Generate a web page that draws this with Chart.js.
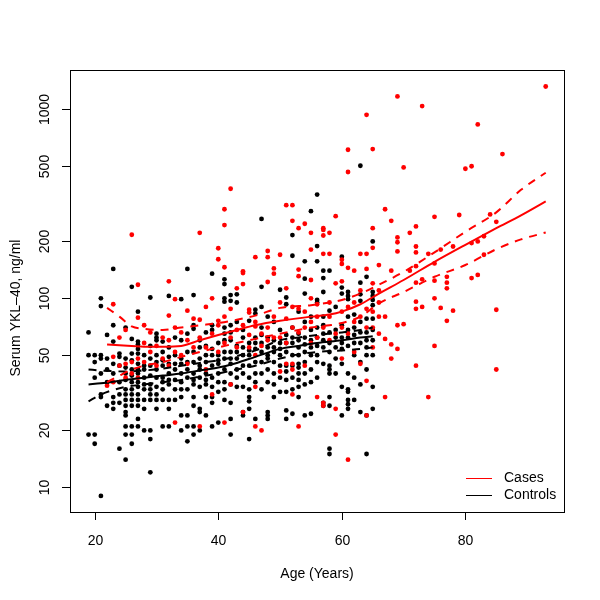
<!DOCTYPE html>
<html>
<head>
<meta charset="utf-8">
<script src="https://cdn.jsdelivr.net/npm/chart.js@4.4.1/dist/chart.umd.min.js"></script>
<style>
  html, body { margin: 0; padding: 0; background: #fff; }
  #wrap { width: 600px; height: 600px; }
</style>
</head>
<body>
<div id="wrap"><canvas id="ykl" width="600" height="600"></canvas></div>
<script>
// tick labels
const xTicks = [20, 40, 60, 80];
const yTicks = [10, 20, 50, 100, 200, 500, 1000];

// controls: one list of YKL-40 values per age
const controlAges = [19, 20, 21, 22, 23, 24, 25, 26, 27, 28, 29, 30, 31, 32, 33, 34, 35, 36, 37, 38, 39, 40, 41, 42,
  43, 44, 45, 46, 47, 48, 49, 50, 51, 52, 53, 54, 55, 56, 57, 58, 59, 60, 61, 62, 63, 64, 65];
const controlVals = [
  [66, 50, 19],
  [50, 46, 38, 19, 17],
  [100, 91, 50, 48, 40, 31, 30, 9],
  [64, 48, 42, 36, 27],
  [143, 72, 59, 45, 40, 30, 28, 26],
  [51, 49, 44, 36, 31, 28, 16],
  [70, 48, 43, 40, 37, 33, 31, 29, 27, 25, 24, 21, 19, 14],
  [115, 61, 51, 47, 42, 39, 36, 33, 31, 29, 27, 21, 19, 17],
  [85, 59, 57, 54, 51, 45, 42, 40, 36, 34, 31, 29, 27, 23, 21],
  [50, 44, 42, 38, 35, 33, 29, 26, 20],
  [101, 56, 48, 44, 39, 35, 33, 31, 29, 20, 18, 12],
  [65, 62, 60, 50, 46, 42, 38, 34, 31, 29, 26],
  [59, 52, 47, 44, 38, 36, 33, 29, 21],
  [103, 55, 49, 45, 40, 37, 35, 29, 26, 21],
  [62, 50, 45, 42, 37, 33, 29],
  [99, 60, 48, 45, 40, 36, 33, 30, 24, 20],
  [143, 65, 52, 46, 42, 38, 33, 24, 21, 17.5],
  [104, 72, 69, 52, 46, 40, 37, 35, 30, 27, 21, 19],
  [60, 55, 48, 44, 42, 38, 34, 26, 25, 20],
  [66, 56, 50, 46, 40, 37, 35, 30, 24],
  [135, 72, 68, 54, 50, 44, 38, 34, 30, 28, 21],
  [58, 50, 47, 45, 40, 36, 32, 22],
  [126, 119, 100, 96, 70, 65, 60, 52, 48, 42, 36, 33, 29],
  [104, 97, 72, 66, 60, 52, 48, 45, 40, 35, 28, 23, 19],
  [105, 95, 75, 56, 52, 48, 42, 38, 34],
  [68, 62, 55, 50, 44, 40, 34, 25, 24],
  [76, 58, 53, 50, 44, 38, 33, 30, 28.5, 26, 18],
  [87, 83, 62, 58, 54, 46, 40, 36, 23],
  [263, 115, 90, 70, 64, 58, 52, 46, 40, 33],
  [80, 62, 55, 50, 48, 42, 36, 25, 24, 23],
  [75, 60, 55, 52, 46, 40, 35, 30],
  [111, 68, 58, 54, 50, 44, 38, 32],
  [101, 93, 64, 58, 52, 44, 41, 37, 32, 25.5, 23],
  [216, 168, 70, 62, 58, 50, 44, 38, 33, 24.5],
  [85, 65, 60, 55, 50, 45, 43, 40, 37, 34, 30],
  [157, 127, 106, 75, 62, 57, 52, 46, 40, 35, 24],
  [289, 80, 68, 60, 55, 50, 42, 36, 24.5],
  [354, 189, 157, 98, 95, 70, 62, 56, 50, 46, 38],
  [140, 128, 108, 80, 72, 65, 60, 55, 45, 28, 27],
  [140, 86, 66, 58, 52, 44, 42, 40, 30, 27, 16, 15],
  [90, 68, 62, 55, 48, 40],
  [166, 114, 106, 72, 62, 58, 54, 45, 34, 24],
  [108, 103, 99, 80, 68, 62, 56, 40, 33, 32, 29, 27.5, 26],
  [82, 70, 64, 58, 50, 38, 29],
  [503, 121, 105, 97, 75, 66, 58, 46, 35, 25],
  [130, 78, 66, 60, 55, 50, 42, 24, 15],
  [200, 108, 103, 98, 92, 78, 68, 60, 50, 34, 26]
];

// cases: one list of YKL-40 values per age
const caseAges = [22, 23, 24, 25, 26, 27, 28, 29, 30, 31, 32, 33, 34, 35, 36, 37, 38, 39, 40, 41, 42, 43, 44, 45,
  46, 47, 48, 49, 50, 51, 52, 53, 54, 55, 56, 57, 58, 59, 60, 61, 62, 63, 64, 65, 66, 67, 68, 69, 70, 71, 72, 73,
  74, 75, 76, 77, 78, 79, 80, 81, 82, 83, 84, 85, 86, 93];
const caseVals = [
  [34.5], [93, 49, 36], [62, 44], [68, 45, 38], [217, 46, 40], [118, 79, 48, 38], [72, 58, 46], [66, 52],
  [56, 44], [62, 48], [123, 81, 60, 44], [99, 70, 52, 22], [66, 50], [86, 60, 45], [78, 55], [222, 77, 62, 21],
  [90, 55, 42], [100, 65, 31], [184, 161, 76, 72, 52], [296, 244, 146, 80, 58, 22], [380, 88, 62, 35],
  [113, 68, 55], [139, 136, 119, 72, 25], [87, 84, 64, 55], [165, 75, 71, 50, 34, 21], [65, 56, 20],
  [178, 165, 122, 70, 60], [144, 135, 80, 62], [170, 95, 62, 41], [311, 113, 78, 58, 45],
  [311, 257, 90, 70, 45, 42, 31], [235, 142, 131, 88, 66, 21], [248, 85, 70, 44], [222, 181, 125, 100, 75, 58],
  [93, 80, 62, 30], [235, 230, 215, 172, 70, 28, 27], [222, 172, 95, 80, 60], [272, 120, 65, 26, 19],
  [160, 152, 123, 85, 70, 48], [611, 466, 145, 90, 65, 14], [140, 95, 75, 52], [172, 110, 80, 45],
  [935, 172, 143, 88, 70, 36.6, 24], [616, 235, 185, 120, 85, 70, 55], [150, 110, 95, 80, 65],
  [296, 80, 61, 30], [257, 140, 57, 48], [1170, 210, 198, 177, 72, 54], [493, 73], [222, 140],
  [240, 188, 175, 148, 121, 96, 88, 44], [1040, 126, 90], [172, 30], [270, 153, 124, 100, 56], [181, 89],
  [130, 121, 113, 76], [188, 86], [276], [485], [500, 196, 128], [832, 200, 133], [213, 170], [278],
  [254, 87, 42], [580], [1321]
];

// smooth fits with bands
const caseFitAges = [22, 24, 26, 28, 31, 34, 37, 40, 43, 46, 50, 55, 58, 60, 63, 66, 70, 75, 80, 85, 89, 93];
const caseFit   = [57, 56.5, 56, 55.5, 55.5, 56, 60, 64, 68, 72, 76, 80, 82, 85, 93, 106, 125, 156, 192, 235, 275, 326];
const caseUpper = [89, 80, 71, 69, 68, 70, 72, 74, 77, 81, 89, 92, 95, 98, 106, 118, 138, 175, 225, 285, 375, 462];
const caseLower = [36, 39, 42, 44, 46, 49, 52, 55, 58, 61, 65, 70, 72, 74, 80, 94, 108, 130, 150, 182, 205, 223];

const controlFitAges = [19, 21, 25, 28, 31, 34, 37, 40, 43, 46, 50, 53, 56, 60, 63, 65];
const controlFit   = [35, 35.5, 37, 38, 39, 40, 41.5, 43, 45.5, 49, 54, 56, 58, 60, 62, 63];
const controlUpper = [42, 41.5, 41, 41.5, 42.5, 44, 45.5, 47, 49.5, 53, 60, 62, 64, 66, 68, 70];
const controlLower = [28.5, 31, 34, 35, 36, 37, 38.5, 40, 42, 44, 48, 50.5, 52, 53, 54, 55];

const toPoints = (ages, vals) => {
  const pts = [];
  ages.forEach((a, i) => vals[i].forEach(v => pts.push({ x: a, y: v })));
  return pts;
};
const toLine = (ages, vals) => ages.map((a, i) => ({ x: a, y: vals[i] }));

const FONT = '14px "Liberation Sans", Arial, Helvetica, sans-serif';

// R style box, axes, titles and legend
const rStyle = {
  id: 'rStyle',
  afterDraw(chart) {
    const { ctx, chartArea: a, scales: { x, y } } = chart;
    ctx.save();
    ctx.strokeStyle = '#000';
    ctx.lineWidth = 1;
    ctx.setLineDash([]);
    ctx.strokeRect(a.left + 0.5, a.top + 0.5, a.right - a.left, a.bottom - a.top);
    ctx.font = FONT;
    ctx.fillStyle = '#000';
    ctx.textAlign = 'center';
    ctx.textBaseline = 'middle';

    xTicks.forEach(t => {
      const px = Math.round(x.getPixelForValue(t)) + 0.5;
      ctx.beginPath();
      ctx.moveTo(px, a.bottom);
      ctx.lineTo(px, a.bottom + 8);
      ctx.stroke();
      ctx.fillText(String(t), px, a.bottom + 29);
    });
    ctx.fillText('Age (Years)', (a.left + a.right) / 2, 574);

    yTicks.forEach(t => {
      const py = Math.round(y.getPixelForValue(t)) + 0.5;
      ctx.beginPath();
      ctx.moveTo(a.left - 8, py);
      ctx.lineTo(a.left, py);
      ctx.stroke();
      ctx.save();
      ctx.translate(45, py);
      ctx.rotate(-Math.PI / 2);
      ctx.fillText(String(t), 0, 0);
      ctx.restore();
    });
    ctx.save();
    ctx.translate(16, 308);
    ctx.rotate(-Math.PI / 2);
    ctx.fillText('Serum YKL\u201340, ng/ml', 0, 0);
    ctx.restore();

    // legend
    const items = [['Cases', '#ff0000', 478], ['Controls', '#000000', 495]];
    ctx.textAlign = 'left';
    items.forEach(([label, col, ly]) => {
      ctx.strokeStyle = col;
      ctx.beginPath();
      ctx.moveTo(466, ly + 0.5);
      ctx.lineTo(492, ly + 0.5);
      ctx.stroke();
      ctx.fillText(label, 504, ly);
    });
    ctx.restore();
  }
};

const lineSet = (data, color, dashed) => ({
  type: 'line',
  data: data,
  borderColor: color,
  borderWidth: 2,
  borderDash: dashed ? [8, 7] : [],
  pointRadius: 0,
  fill: false,
  cubicInterpolationMode: 'monotone',
  order: 0
});

new Chart(document.getElementById('ykl'), {
  type: 'scatter',
  data: {
    datasets: [
      lineSet(toLine(caseFitAges, caseFit), '#ff0000', false),
      lineSet(toLine(caseFitAges, caseUpper), '#ff0000', true),
      lineSet(toLine(caseFitAges, caseLower), '#ff0000', true),
      lineSet(toLine(controlFitAges, controlFit), '#000000', false),
      lineSet(toLine(controlFitAges, controlUpper), '#000000', true),
      lineSet(toLine(controlFitAges, controlLower), '#000000', true),
      {
        label: 'Cases',
        data: toPoints(caseAges, caseVals),
        backgroundColor: '#ff0000',
        borderWidth: 0,
        pointRadius: 2.4,
        order: 1
      },
      {
        label: 'Controls',
        data: toPoints(controlAges, controlVals),
        backgroundColor: '#000000',
        borderWidth: 0,
        pointRadius: 2.4,
        order: 2
      }
    ]
  },
  options: {
    responsive: false,
    animation: false,
    devicePixelRatio: 1,
    layout: { autoPadding: false, padding: { top: 70, right: 36, left: 0, bottom: 0 } },
    plugins: { legend: { display: false }, tooltip: { enabled: false } },
    scales: {
      x: {
        type: 'linear',
        min: 16.0,
        max: 95.96,
        grid: { display: false },
        border: { display: false },
        ticks: { display: false },
        afterFit(s) { s.height = 88; }
      },
      y: {
        type: 'logarithmic',
        min: 7.4,
        max: 1615,
        grid: { display: false },
        border: { display: false },
        ticks: { display: false },
        afterFit(s) { s.width = 70; }
      }
    }
  },
  plugins: [rStyle]
});
</script>
</body>
</html>
